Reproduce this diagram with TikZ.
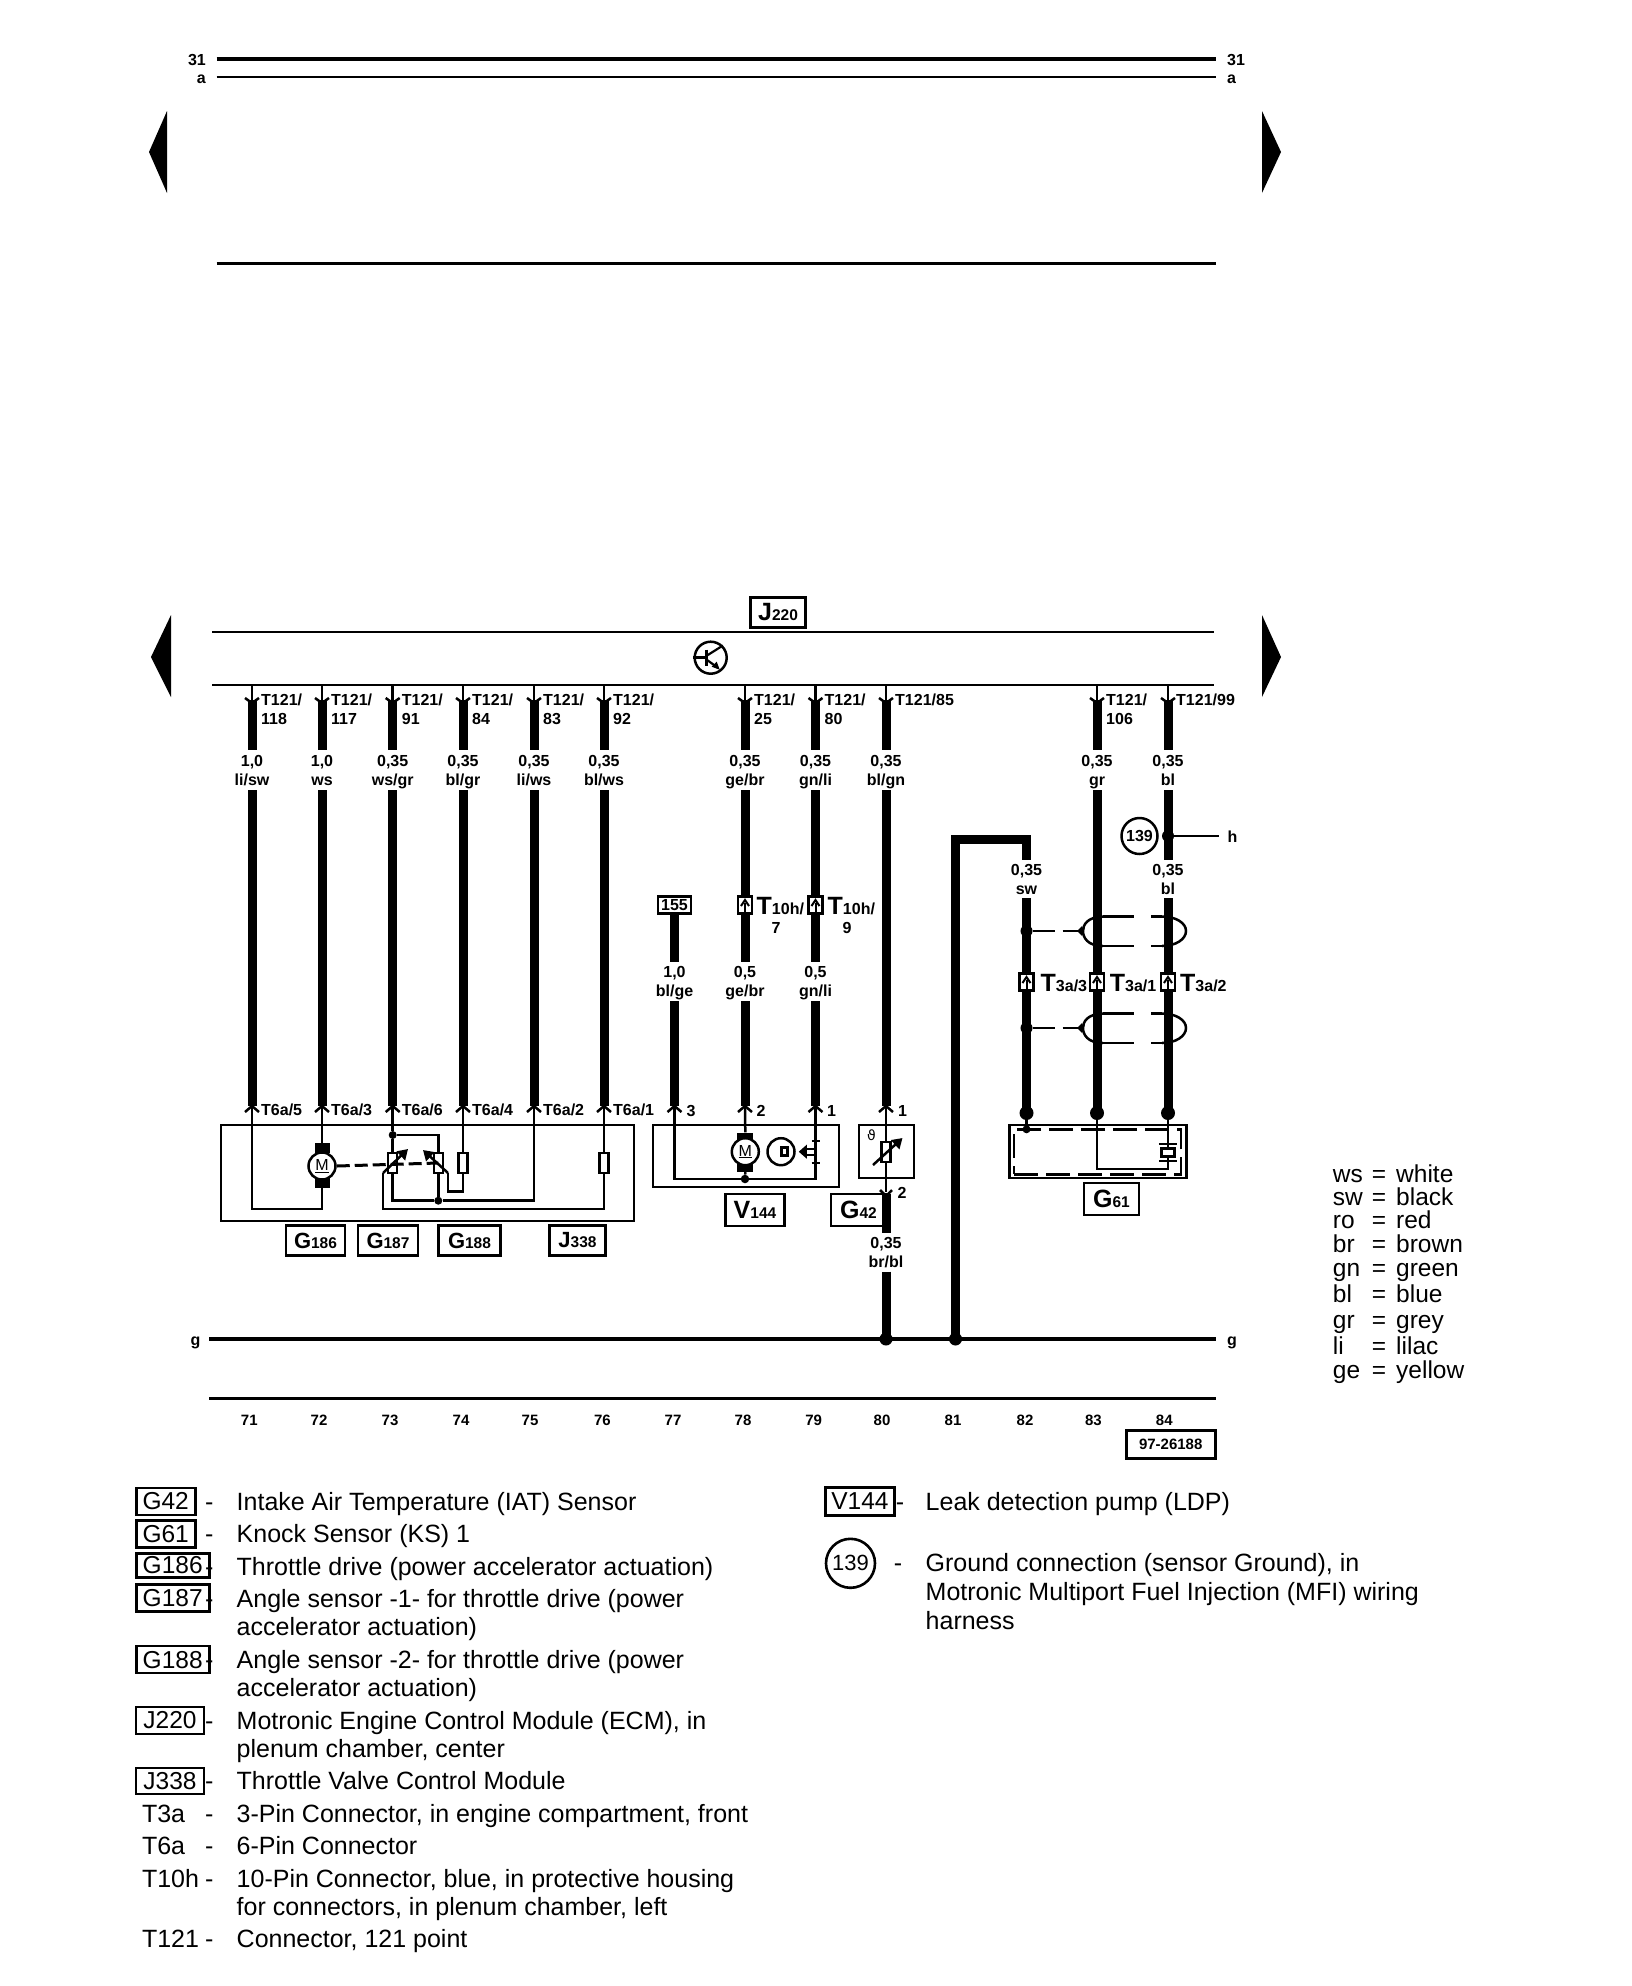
\documentclass[tikz,border=0pt]{standalone}
\usepackage{fontspec}
\setmainfont{Liberation Sans}
\newfontfamily\dejavu{DejaVu Sans}
\usetikzlibrary{calc,arrows.meta}
\tikzset{
 thinw/.style={line width=2.5pt,draw=black,line join=miter},
 thickw/.style={line width=9pt,draw=black},
 busl/.style={line width=2.5pt,draw=black},
 chev/.style={line width=2.5pt,draw=black},
 lab/.style={inner sep=0pt,font=\fontsize{16}{16}\selectfont\bfseries,anchor=base},
 labw/.style={lab,anchor=base west},
 leg/.style={inner sep=0pt,font=\fontsize{25}{25}\selectfont,anchor=base west},
 keyt/.style={leg,font=\fontsize{24.5}{24.5}\selectfont},
 legdash/.style={leg,anchor=base},
 tagbox/.style={draw=black,line width=2.6pt,inner sep=0pt,fill=white},
 legbox/.style={draw=black,line width=2.6pt,inner sep=0pt,font=\fontsize{24.5}{24.5}\selectfont},
 modbox/.style={draw=black,line width=2.5pt,inner sep=0pt},
 res/.style={draw=black,fill=white,line width=2.2pt,inner sep=0pt,minimum width=9pt,minimum height=20pt},
 capb/.style={fill=black,inner sep=0pt},
 wdot/.style={circle,fill=black,inner sep=0pt},
 motor/.style={circle,draw=black,fill=white,line width=2.5pt,inner sep=0pt,minimum size=27pt,font=\fontsize{16}{16}\selectfont},
 connb/.style={draw=black,fill=white,line width=2.6pt,inner sep=0pt,minimum width=14pt,minimum height=17pt},
 pin/.style={line width=2.5pt,-{Triangle[length=10pt,width=12pt]}},
}
\newcommand\tagt[2]{{\fontsize{25}{25}\selectfont\bfseries #1}{\fontsize{15.5}{15.5}\selectfont\bfseries #2}}
\newcommand\tagg[2]{{\fontsize{22}{22}\selectfont\bfseries #1}{\fontsize{15.5}{15.5}\selectfont\bfseries #2}}
\newcommand\topwire[2]{%
 \coordinate (w#1) at (#2,0);
 \draw[thinw] (w#1 |- ybusb) -- (w#1 |- ytchev);
 \draw[chev] ($(w#1 |- ytchev)+(-7,-5)$) -- (w#1 |- ytchev) -- ($(w#1 |- ytchev)+(7,-5)$);
 \draw[thickw] (w#1 |- ytA) -- (w#1 |- ytB);
}
\newcommand\tlabel[3]{%
 \node[labw] (ta#1) at ($(w#1 |- ytlA)+(9,0)$) {#2};
 \node[labw] (tb#1) at ($(w#1 |- ytlB)+(9,0)$) {#3};
}
\newcommand\gauge[4]{%
 \node[lab] (g#4#1) at (w#1 |- yg#4) {#2};
 \node[lab] (c#4#1) at (w#1 |- yc#4) {#3};
}
\newcommand\botchev[1]{%
 \draw[chev] ($(w#1 |- ybchev)+(-7,6)$) -- (w#1 |- ybchev) -- ($(w#1 |- ybchev)+(7,6)$);
}
\newcommand\conn[2]{%
 \node[connb] (#1) at #2 {};
 \draw[line width=2pt] ($(#1.south)+(0,-2)$) -- ($(#1.center)+(0,-2)$);
 \draw[line width=2pt] ($(#1.center)+(-4,1)$) -- ($(#1.center)+(0,-5)$) -- ($(#1.center)+(4,1)$);
}
\newcommand\shield[2]{%
 \coordinate (#1m) at (0,#2);
 \node[wdot,minimum size=12pt] (#1d) at (w82 |- #1m) {};
 \coordinate (#1l) at (1083,#2);
 \coordinate (#1tl) at (1103,#2-14.5);
 \coordinate (#1tr) at (1162,#2-14.5);
 \coordinate (#1bl) at (1103,#2+15);
 \coordinate (#1br) at (1162,#2+15);
 \coordinate (#1r) at (1186,#2);
 \draw[line width=2.5pt,dash pattern=on 22pt off 8pt] (#1d) -- (#1l);
 \fill ($(#1l)+(-6,0)$) -- ($(#1l)+(-1,-5)$) -- ($(#1l)+(1,0)$) -- ($(#1l)+(-1,5)$) -- cycle;
 \draw[line width=2.5pt] (#1tl) .. controls ($(#1l)+(4,-14)$) and ($(#1l)+(0,-6)$) .. (#1l) .. controls ($(#1l)+(0,6)$) and ($(#1l)+(4,15)$) .. (#1bl);
 \draw[line width=2.5pt] (#1tr) .. controls ($(#1r)+(-10,-14.5)$) and ($(#1r)+(0,-8)$) .. (#1r) .. controls ($(#1r)+(0,8)$) and ($(#1r)+(-10,15)$) .. (#1br);
 \draw[line width=2.5pt,dash pattern=on 31pt off 17pt] (#1tl) -- (#1tr);
 \draw[line width=2.5pt,dash pattern=on 31pt off 17pt] (#1bl) -- (#1br);
}
\begin{document}
\begin{tikzpicture}[x=1pt,y=-1pt]
\useasboundingbox (0,0) rectangle (1632,1986);
% ---- level coordinates
\coordinate (ybusa) at (0,632); \coordinate (ybusb) at (0,685);
\coordinate (ytchev) at (0,703); \coordinate (ytA) at (0,700); \coordinate (ytB) at (0,750);
\coordinate (ytlA) at (0,705); \coordinate (ytlB) at (0,724);
\coordinate (ygA) at (0,766); \coordinate (ycA) at (0,785);
\coordinate (ygB) at (0,977); \coordinate (ycB) at (0,996);
\coordinate (ygC) at (0,875); \coordinate (ycC) at (0,894);
\coordinate (ygD) at (0,1248); \coordinate (ycD) at (0,1267);
\coordinate (yres) at (0,790); \coordinate (yb) at (0,1106); \coordinate (ybchev) at (0,1106);
\coordinate (yT) at (0,1115);
\coordinate (yhi) at (0,962); \coordinate (ylo) at (0,1001);
\coordinate (ycnA) at (0,905); \coordinate (ycnB) at (0,982);
\coordinate (yG) at (0,1339);
\coordinate (yRT) at (0,1163);
% ---- top block
\coordinate (tl31) at (216.5,59); \coordinate (tr31) at (1216,59);
\coordinate (tla) at (216.5,77); \coordinate (tra) at (1216,77);
\coordinate (tl3) at (216.5,263); \coordinate (tr3) at (1216,263);
\draw[line width=3.5pt] (tl31) -- (tr31);
\draw[line width=2.5pt] (tla) -- (tra);
\draw[line width=3pt] (tl3) -- (tr3);
\node[lab,anchor=base east] (n31l) at (206,65) {31};
\node[lab,anchor=base west] (n31r) at (1227,65) {31};
\node[lab,anchor=base east] (nal) at (206,83) {a};
\node[lab,anchor=base west] (nar) at (1227,83) {a};
\fill (167,111) -- (149,152) -- (167,193) -- cycle;
\fill (1262,111) -- (1281,152) -- (1262,193) -- cycle;
\fill (171,615) -- (151,657) -- (171,697) -- cycle;
\fill (1262,615) -- (1281,657) -- (1262,697) -- cycle;
% ---- ECM
\coordinate (bal) at (212,632); \coordinate (bar) at (1214,632);
\coordinate (bbl) at (212,685); \coordinate (bbr) at (1214,685);
\draw[busl] (bal) -- (bar);
\draw[busl] (bbl) -- (bbr);
\node[tagbox,minimum width=55pt,minimum height=30pt] (J220) at (778,612.5) {\tagt{J}{220}};
\node[circle,draw=black,line width=2.5pt,minimum size=32pt,inner sep=0pt] (trans) at (710.7,657.7) {};
\draw[line width=2.5pt] (trans.west) -- ($(trans.center)+(-4,0)$);
\draw[line width=2.5pt] ($(trans.center)+(-4,-8)$) -- ($(trans.center)+(-4,8)$);
\draw[line width=2.2pt] ($(trans.center)+(-4,-2)$) -- (trans.north east);
\draw[line width=2.2pt] ($(trans.center)+(-4,2)$) -- ($(trans.center)+(7,10)$);
\fill ($(trans.center)+(9,12)$) -- ($(trans.center)+(6,4)$) -- ($(trans.center)+(1,9)$) -- cycle;
% ---- wires from the ECM
\topwire{71}{252}\topwire{72}{322}\topwire{73}{392.7}\topwire{74}{463}\topwire{75}{534}\topwire{76}{604}
\topwire{78}{745}\topwire{79}{815.5}\topwire{80}{886}\topwire{83}{1097}\topwire{84}{1168}
\coordinate (w77) at (674.5,0); \coordinate (w81) at (955.5,0); \coordinate (w82) at (1026.5,0);
\tlabel{71}{T121/}{118}\tlabel{72}{T121/}{117}\tlabel{73}{T121/}{91}\tlabel{74}{T121/}{84}\tlabel{75}{T121/}{83}\tlabel{76}{T121/}{92}
\tlabel{78}{T121/}{25}\tlabel{79}{T121/}{80}\tlabel{83}{T121/}{106}
\node[labw] (ta80) at ($(w80 |- ytlA)+(9,0)$) {T121/85};
\node[labw] (ta84) at ($(w84 |- ytlA)+(8,0)$) {T121/99};
\gauge{71}{1,0}{li/sw}{A}\gauge{72}{1,0}{ws}{A}\gauge{73}{0,35}{ws/gr}{A}\gauge{74}{0,35}{bl/gr}{A}\gauge{75}{0,35}{li/ws}{A}\gauge{76}{0,35}{bl/ws}{A}
\gauge{78}{0,35}{ge/br}{A}\gauge{79}{0,35}{gn/li}{A}\gauge{80}{0,35}{bl/gn}{A}\gauge{83}{0,35}{gr}{A}\gauge{84}{0,35}{bl}{A}
\gauge{77}{1,0}{bl/ge}{B}\gauge{78}{0,5}{ge/br}{B}\gauge{79}{0,5}{gn/li}{B}
\gauge{82}{0,35}{sw}{C}\gauge{84}{0,35}{bl}{C}
\gauge{80}{0,35}{br/bl}{D}
% ---- thick runs
\foreach \w in {71,72,73,74,75,76,80}{\draw[thickw] (w\w |- yres) -- (w\w |- yb);}
\foreach \w in {78,79}{
 \draw[thickw] (w\w |- yres) -- (w\w |- yhi);
 \draw[thickw] (w\w |- ylo) -- (w\w |- yb);}
\coordinate (y155) at (0,914);
\draw[thickw] (w77 |- y155) -- (w77 |- yhi);
\draw[thickw] (w77 |- ylo) -- (w77 |- yb);
\node[draw=black,line width=2.4pt,inner sep=0pt,minimum width=33pt,minimum height=17pt,lab,anchor=center] (c155) at (674.5,905) {155};
\coordinate (y81t) at (0,839.5); \coordinate (y82a) at (0,860); \coordinate (y82b) at (0,898); \coordinate (y82c) at (0,1113);
\draw[thickw,line join=miter] (w81 |- yG) -- (w81 |- y81t) -- (w82 |- y81t) -- (w82 |- y82a);
\draw[thickw] (w82 |- y82b) -- (w82 |- y82c);
\draw[thickw] (w83 |- yres) -- (w83 |- y82c);
\draw[thickw] (w84 |- yres) -- (w84 |- y82a);
\draw[thickw] (w84 |- y82b) -- (w84 |- y82c);
% ground 139
\node[circle,draw=black,line width=2.5pt,minimum size=36pt,inner sep=0pt,lab,anchor=center] (n139) at (1139.5,836) {139};
\node[wdot,minimum size=12pt] (d139) at (w84 |- 0,836) {};
\coordinate (hend) at (1219,836);
\draw[line width=2pt] (d139) -- (hend);
\node[lab,anchor=base] (nh) at (1232.5,842) {h};
% shields
\shield{sa}{931}
\shield{sb}{1028}
% connectors
\conn{c78}{(w78 |- ycnA)}
\conn{c79}{(w79 |- ycnA)}
\conn{c82}{(w82 |- ycnB)}
\conn{c83}{(w83 |- ycnB)}
\conn{c84}{(w84 |- ycnB)}
\node[labw] (tt78) at (756.5,914) {{\fontsize{25}{25}\selectfont\bfseries T}10h/};
\node[labw] (tt79) at (827.5,914) {{\fontsize{25}{25}\selectfont\bfseries T}10h/};
\node[lab] (t7) at (776,933) {7};
\node[lab] (t9) at (847,933) {9};
\node[labw] (tt82) at (1040.5,991) {{\fontsize{25}{25}\selectfont\bfseries T}3a/3};
\node[labw] (tt83) at (1109.7,991) {{\fontsize{25}{25}\selectfont\bfseries T}3a/1};
\node[labw] (tt84) at (1180,991) {{\fontsize{25}{25}\selectfont\bfseries T}3a/2};
% ---- J338 module
\node[modbox,minimum width=413pt,minimum height=96pt] (J338b) at (427.5,1173) {};
\foreach \w in {71,72,73,74,75,76}{\botchev{\w}}
\foreach \w/\t in {71/5,72/3,73/6,74/4,75/2,76/1}{\node[labw] (t6\w) at ($(w\w |- yT)+(9,0)$) {T6a/\t};}
\coordinate (yL1) at (0,1209); \coordinate (yL2) at (0,1200.7); \coordinate (yL3) at (0,1191.7); \coordinate (yL4) at (0,1135);
\coordinate (xR2) at (438.3,0);
\node[capb,minimum width=15pt,minimum height=10pt] (m1t) at (322,1148) {};
\node[capb,minimum width=15pt,minimum height=10pt] (m1b) at (322,1183) {};
\draw[thinw] (w71 |- yb) -- (w71 |- yL1) -- (w72 |- yL1) -- (m1b.south);
\draw[thinw] (w72 |- yb) -- (m1t.north);
\node[wdot,minimum size=8pt] (d73) at (w73 |- yL4) {};
\node[wdot,minimum size=8pt] (d75) at (xR2 |- yL2) {};
\draw[thinw] (w73 |- yb) -- (d73);
\draw[thinw] (d73) -- (w73 |- yL2) -- (d75);
\draw[thinw] (d73) -- (xR2 |- yL4) -- (d75);
\draw[thinw] (d75) -- (w75 |- yL2) -- (w75 |- yb);
\coordinate (a1s) at (383,1173); \coordinate (a1t) at (408,1149);
\coordinate (a2s) at (448,1173); \coordinate (a2t) at (423,1150);
\draw[thinw] (w76 |- yb) -- (w76 |- yL1) -- (a1s |- yL1) -- (a1s);
\draw[thinw] (w74 |- yb) -- (w74 |- yL3) -- (a2s |- yL3) -- (a2s);
\node[res] (R1) at (w73 |- yRT) {};
\node[res] (R2) at (xR2 |- yRT) {};
\node[res] (R3) at (w74 |- yRT) {};
\node[res] (R4) at (w76 |- yRT) {};
\draw[pin] (a1s) -- (a1t);
\draw[pin] (a2s) -- (a2t);
\node[motor] (M1) at (322,1166) {\underline{M}};
\draw[line width=3pt,dash pattern=on 13pt off 5pt] (M1.east) -- (R2.center);
\node[tagbox,minimum width=59pt,minimum height=30pt] (G186) at (315.5,1240.5) {\tagg{G}{186}};
\node[tagbox,minimum width=60pt,minimum height=30pt] (G187) at (388,1240.5) {\tagg{G}{187}};
\node[tagbox,minimum width=62pt,minimum height=30pt] (G188) at (469.5,1240.5) {\tagg{G}{188}};
\node[tagbox,minimum width=56pt,minimum height=30pt] (J338) at (577.5,1240.5) {\tagg{J}{338}};
% ---- V144 module
\node[modbox,minimum width=186pt,minimum height=62pt] (V144b) at (746,1156) {};
\foreach \w in {77,78,79,80}{\botchev{\w}}
\node[lab] (p3) at (691,1116) {3};
\node[lab] (p2) at (761,1116) {2};
\node[lab] (p1) at (831.5,1116) {1};
\node[lab] (p1b) at (902.5,1116) {1};
\coordinate (yV) at (0,1179);
\node[capb,minimum width=16pt,minimum height=8pt] (m2t) at (745.3,1136.5) {};
\node[capb,minimum width=16pt,minimum height=8pt] (m2b) at (745.3,1168) {};
\node[wdot,minimum size=8.5pt] (dV) at (w78 |- yV) {};
\draw[thinw] (w77 |- yb) -- (w77 |- yV) -- (w79 |- yV) -- (w79 |- yb);
\draw[thinw] (w78 |- yb) -- (m2t.north);
\draw[thinw] (m2b.south) -- (dV);
\node[motor] (M2) at (745.3,1151.7) {\underline{M}};
\node[circle,draw=black,line width=2.5pt,minimum size=27pt,inner sep=0pt] (P) at (781,1151.7) {};
\fill ($(P.center)+(-1,-5.5)$) rectangle ($(P.center)+(8,5.5)$);
\fill[white] ($(P.center)+(2,-2.5)$) rectangle ($(P.center)+(5,2.5)$);
\coordinate (pa) at (w79 |- P);
\draw[line width=2pt] ($(pa)+(0,-3)$) -- ($(P.east)+(10,-3)$);
\draw[line width=2pt] ($(pa)+(0,3)$) -- ($(P.east)+(10,3)$);
\fill ($(P.east)+(3,0)$) -- ($(P.east)+(11,-7)$) -- ($(P.east)+(11,7)$) -- cycle;
\draw[line width=2pt] ($(pa)+(-4,-11)$) -- ($(pa)+(4,-11)$);
\draw[line width=2pt] ($(pa)+(-4,11)$) -- ($(pa)+(4,11)$);
\node[tagbox,minimum width=59pt,minimum height=32pt] (V144) at (755,1210) {\tagt{V}{144}};
\node[tagbox,minimum width=55pt,minimum height=32pt] (G42) at (858.5,1210) {\tagt{G}{42}};
% ---- G42 sensor
\node[modbox,minimum width=55pt,minimum height=53pt] (G42b) at (886.5,1151.7) {};
\coordinate (yS) at (0,1192);
\draw[thinw] (w80 |- yb) -- (w80 |- yS);
\node[res,minimum height=20pt] (RT) at (w80 |- 0,1152) {};
\coordinate (ta1) at (873,1165); \coordinate (ta2) at (902.5,1138);
\draw[pin] (ta1) -- (ta2);
\node[inner sep=0pt,font=\dejavu\fontsize{14}{14}\selectfont] (theta) at (871.5,1135) {ϑ};
\coordinate (dchev) at (w80 |- 0,1196);
\draw[chev] ($(dchev)+(-6,-6)$) -- (dchev) -- ($(dchev)+(6,-6)$);
\node[lab] (p2b) at (902,1198) {2};
\coordinate (y80c) at (0,1194); \coordinate (y80d) at (0,1232.7); \coordinate (y80e) at (0,1271.7);
\draw[thickw] (w80 |- y80c) -- (w80 |- y80d);
\draw[thickw] (w80 |- y80e) -- (w80 |- yG);
% ---- G61 sensor
\node[modbox,minimum width=177pt,minimum height=53pt] (G61b) at (1097.8,1151.7) {};
\node[draw=black,line width=2.5pt,dash pattern=on 24pt off 8pt,minimum width=167pt,minimum height=45pt,inner sep=0pt] (G61d) at (1097.7,1151.8) {};
\node[wdot,minimum size=14pt] (d82) at (w82 |- y82c) {};
\node[wdot,minimum size=14pt] (d83) at (w83 |- y82c) {};
\node[wdot,minimum size=14pt] (d84) at (w84 |- y82c) {};
\node[wdot,minimum size=8pt] (d82b) at (w82 |- 0,1129.3) {};
\draw[thinw] (d82) -- (d82b);
\coordinate (yCr) at (0,1169);
\draw[thinw] (d83) -- (w83 |- yCr) -- (w84 |- yCr) -- (w84 |- 0,1158);
\draw[thinw] (d84) -- (w84 |- 0,1147);
\node[draw=black,line width=2.4pt,minimum width=13pt,minimum height=8pt,inner sep=0pt,fill=white] (XT) at (w84 |- 0,1152.5) {};
\draw[line width=2.2pt] ($(XT.north west)+(-1.5,-3)$) -- ($(XT.north east)+(1.5,-3)$);
\draw[line width=2.2pt] ($(XT.south west)+(-1.5,3)$) -- ($(XT.south east)+(1.5,3)$);
\node[tagbox,minimum width=55pt,minimum height=32pt] (G61) at (1111.5,1199) {\tagt{G}{61}};
% ---- g bus
\coordinate (gl) at (209,1339); \coordinate (gr) at (1216,1339);
\draw[line width=3.5pt] (gl) -- (gr);
\node[lab] (ngl) at (195.5,1345) {g};
\node[lab] (ngr) at (1232,1345) {g};
\node[wdot,minimum size=13pt] (d80) at (w80 |- yG) {};
\node[wdot,minimum size=13pt] (d81) at (w81 |- yG) {};
% ---- page numbers
\coordinate (nl) at (209,1398.7); \coordinate (nr) at (1216,1398.7);
\draw[busl] (nl) -- (nr);
\foreach \n/\x in {71/249.3,72/319,73/390,74/461,75/530,76/602.4,77/673,78/743,79/813.7,80/882,81/953,82/1025,83/1093.4,84/1164.3}{
 \node[lab,font=\fontsize{15}{15}\selectfont\bfseries] (pg\n) at (\x,1425) {\n};}
\node[draw=black,line width=2.6pt,inner sep=0pt,minimum width=89pt,minimum height=28pt,lab,anchor=center,font=\fontsize{15}{15}\selectfont\bfseries] (doc) at (1170.7,1444.5) {97-26188};
% ---- colour key
\foreach \a/\b/\y in {ws/white/1182,sw/black/1205,ro/red/1228,br/brown/1252,gn/green/1276,bl/blue/1302,gr/grey/1328,li/lilac/1354.5,ge/yellow/1378.5}{
 \node[keyt] (ka\a) at (1332.7,\y) {\a};
 \node[keyt,anchor=base] (ke\a) at (1379,\y) {=};
 \node[keyt] (kb\a) at (1396,\y) {\b};
}
% ---- legend left
\foreach \k/\y in {a/1510.6,b/1542.5,c/1575.5,d/1607.7,e/1668,f/1729.3,g/1789.3,h/1822.7,i/1854,j/1887.4,k/1947.6}{
 \node[legdash] (ld\k) at (209.4,\y) {-};}
\node[legbox,minimum width=59pt,minimum height=27pt] (LG42) at (165.7,1501.5) {G42};
\node[legbox,minimum width=59pt,minimum height=27pt] (LG61) at (165.7,1533.8) {G61};
\node[legbox,minimum width=73pt,minimum height=24pt] (LG186) at (172.7,1565.5) {G186};
\node[legbox,minimum width=73pt,minimum height=27pt] (LG187) at (172.7,1597.8) {G187};
\node[legbox,minimum width=73pt,minimum height=27pt] (LG188) at (172.7,1659.6) {G188};
\node[legbox,minimum width=68pt,minimum height=27pt] (LJ220) at (170,1720.4) {J220};
\node[legbox,minimum width=68pt,minimum height=26pt] (LJ338) at (170,1781) {J338};
\node[leg] (LT3a) at (141.8,1822.7) {T3a};
\node[leg] (LT6a) at (141.8,1854) {T6a};
\node[leg] (LT10h) at (141.8,1887.4) {T10h};
\node[leg] (LT121) at (141.8,1947.6) {T121};
\node[leg] (tx1) at (236.5,1510.6) {Intake Air Temperature (IAT) Sensor};
\node[leg] (tx2) at (236.5,1542.5) {Knock Sensor (KS) 1};
\node[leg] (tx3) at (236.5,1575.5) {Throttle drive (power accelerator actuation)};
\node[leg] (tx4) at (236.5,1607.7) {Angle sensor -1- for throttle drive (power};
\node[leg] (tx5) at (236.5,1635) {accelerator actuation)};
\node[leg] (tx6) at (236.5,1668) {Angle sensor -2- for throttle drive (power};
\node[leg] (tx7) at (236.5,1696.3) {accelerator actuation)};
\node[leg] (tx8) at (236.5,1729.3) {Motronic Engine Control Module (ECM), in};
\node[leg] (tx9) at (236.5,1757.6) {plenum chamber, center};
\node[leg] (tx10) at (236.5,1789.3) {Throttle Valve Control Module};
\node[leg] (tx11) at (236.5,1822.7) {3-Pin Connector, in engine compartment, front};
\node[leg] (tx12) at (236.5,1854) {6-Pin Connector};
\node[leg] (tx13) at (236.5,1887.4) {10-Pin Connector, blue, in protective housing};
\node[leg] (tx14) at (236.5,1915.3) {for connectors, in plenum chamber, left};
\node[leg] (tx15) at (236.5,1947.6) {Connector, 121 point};
% ---- legend right
\node[legdash] (ldv) at (900,1510) {-};
\node[legbox,minimum width=69pt,minimum height=28pt] (LV144) at (860,1501.5) {V144};
\node[circle,draw=black,line width=2.6pt,minimum size=49pt,inner sep=0pt,font=\fontsize{22}{22}\selectfont] (L139) at (850.5,1563.3) {139};
\node[legdash] (ldg) at (898,1571.7) {-};
\node[leg] (rx1) at (925.5,1510) {Leak detection pump (LDP)};
\node[leg] (rx2) at (925.5,1571.7) {Ground connection (sensor Ground), in};
\node[leg] (rx3) at (925.5,1600.5) {Motronic Multiport Fuel Injection (MFI) wiring};
\node[leg] (rx4) at (925.5,1629.3) {harness};
\end{tikzpicture}
\end{document}
